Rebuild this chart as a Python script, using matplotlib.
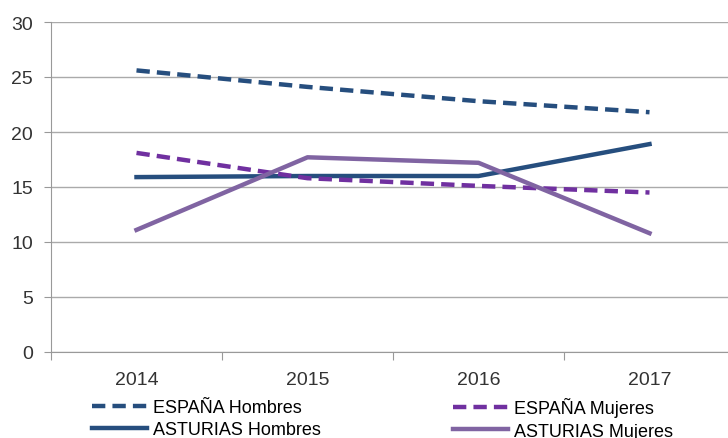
import matplotlib
matplotlib.use("Agg")
import matplotlib.pyplot as plt

years = ["2014", "2015", "2016", "2017"]
espana_hombres = [25.6, 24.1, 22.8, 21.8]
espana_mujeres = [18.1, 15.8, 15.1, 14.5]
asturias_hombres = [15.9, 16.0, 16.0, 18.9]
asturias_mujeres = [11.1, 17.7, 17.2, 10.8]
yticks = [0, 5, 10, 15, 20, 25, 30]

plt.rcParams['font.family'] = ['Liberation Sans', 'DejaVu Sans']

fig = plt.figure(figsize=(7.28, 4.39), dpi=100)
ax = fig.add_axes([51/728, 86/439, 684/728, 330/439])

x = list(range(len(years)))
dark = '#264E7E'
dash = (0, (3.0, 1.6))
l1, = ax.plot(x, espana_hombres, color=dark, lw=3.2, ls=dash, label='ESPAÑA Hombres')
l3, = ax.plot(x, asturias_hombres, color=dark, lw=3.2, label='ASTURIAS Hombres')
l2, = ax.plot(x, espana_mujeres, color='#7030A0', lw=3.2, ls=dash, label='ESPAÑA Mujeres')
l4, = ax.plot(x, asturias_mujeres, color='#8064A2', lw=3.2, label='ASTURIAS Mujeres')

ax.set_xlim(-0.5, 3.5)
ax.set_ylim(0, 30)
ax.set_yticks(yticks)
ax.set_yticklabels([str(v) for v in yticks], fontsize=14, color='#333333')
ax.set_xticks([-0.5, 0.5, 1.5, 2.5, 3.5])
ax.set_xticklabels([])
ax.set_xticks(x, minor=True)
ax.set_xticklabels(years, minor=True, fontsize=14, color='#333333')
ax.tick_params(axis='x', which='minor', length=0, pad=14)
ax.tick_params(axis='x', which='major', length=6, color='#999999')
ax.tick_params(axis='y', length=5, color='#999999', pad=8)
ax.grid(axis='y', color='#AAAAAA', lw=1)
for s in ['top', 'right']:
    ax.spines[s].set_visible(False)
ax.spines['left'].set_color('#999999')
ax.spines['bottom'].set_color('#999999')
ax.set_axisbelow(True)

common = dict(loc='center left', frameon=False, fontsize=13, handlelength=3.05,
              handletextpad=0.35, labelspacing=0.28, borderpad=0, borderaxespad=0)
leg1 = fig.legend(handles=[l1, l3], bbox_to_anchor=(92/728, 19.5/439), **common)
leg2 = fig.legend(handles=[l2, l4], bbox_to_anchor=(453/728, 19.5/439), **common)

fig.savefig('out.png', dpi=100)
